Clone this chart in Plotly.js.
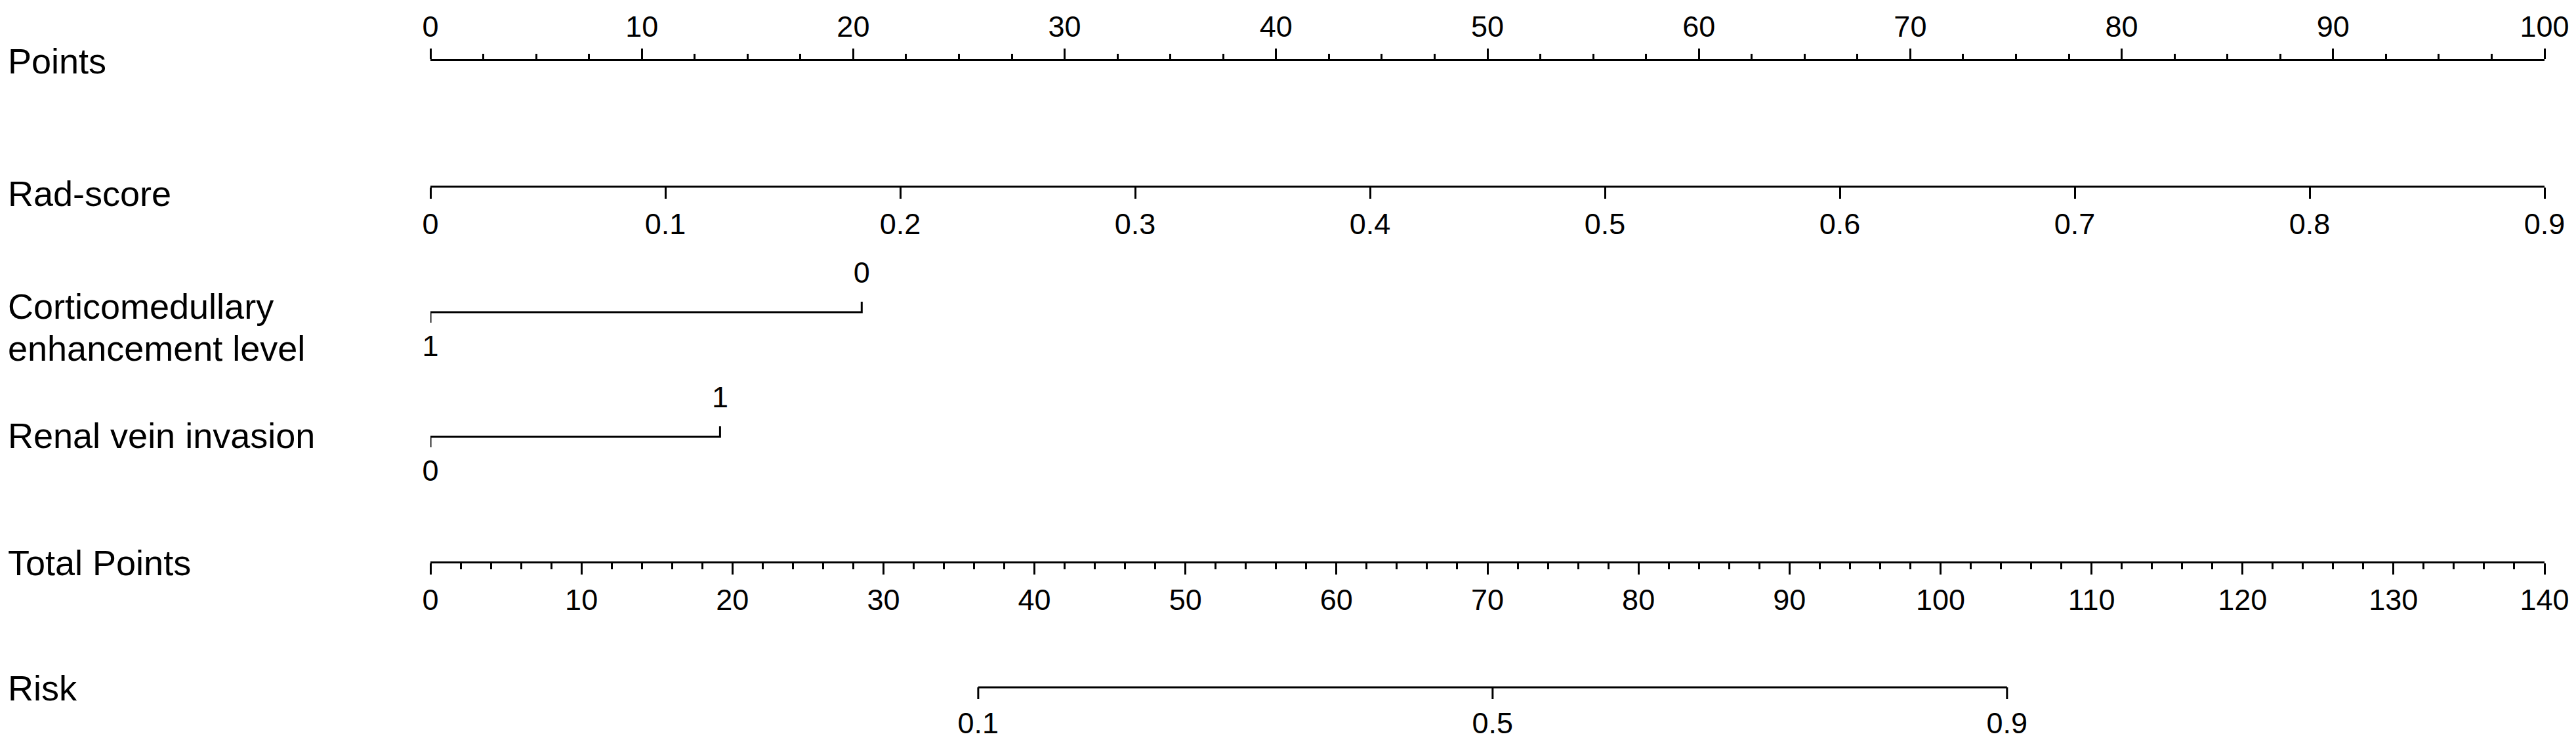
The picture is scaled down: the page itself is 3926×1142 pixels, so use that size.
<!DOCTYPE html>
<html>
<head>
<meta charset="utf-8">
<script src="https://cdn.plot.ly/plotly-3.0.1.min.js"></script>
<style>html,body{margin:0;padding:0;background:#fff;}</style>
</head>
<body>
<div id="nomogram" style="width:3926px;height:1142px;"></div>
<script>
const W = 3926, H = 1142;

// scales
const pointsTicks = [0, 10, 20, 30, 40, 50, 60, 70, 80, 90, 100];
const radTicks = [0, 0.1, 0.2, 0.3, 0.4, 0.5, 0.6, 0.7, 0.8, 0.9];
const totalTicks = [0, 10, 20, 30, 40, 50, 60, 70, 80, 90, 100, 110, 120, 130, 140];

// categorical predictors: level labels and their points
const corticoLevels = ["1", "0"];
const corticoPoints = [0, 20.4];
const renalLevels = ["0", "1"];
const renalPoints = [0, 13.7];

// risk scale: linear predictor = lpIntercept + lpSlope * total points
const riskTicks = [0.1, 0.5, 0.9];
const lpIntercept = -4.537;
const lpSlope = 0.0645;

const rowLabels = ["Points", "Rad-score", "Corticomedullary", "enhancement level",
  "Renal vein invasion", "Total Points", "Risk"];

// layout (pixels)
const FONT = "Liberation Sans, Arial, sans-serif";
const TICK_SIZE = 45, LABEL_SIZE = 54, LW = 3;
const rowY = { points: 91, rad: 284, cortico: 476, renal: 666, total: 857, risk: 1048 };
const labelY = [93, 295, 467, 531, 664, 858, 1049];
const dom = [656 / W, 3878 / W];
const pos = (y) => 1 - y / H;

function toTotal(p) {
  return (Math.log(p / (1 - p)) - lpIntercept) / lpSlope;
}

function levelTraces(pts, levels, y) {
  return [
    {
      x: [pts[0], pts[0], pts[1], pts[1]],
      y: [y + 16, y, y, y - 16],
      mode: "lines",
      line: { color: "black", width: LW },
      cliponaxis: false,
      xaxis: "x", yaxis: "y",
      hoverinfo: "skip",
    },
    {
      x: pts,
      y: [y + 56, y - 56],
      text: levels,
      mode: "text",
      textposition: "middle center",
      textfont: { family: FONT, size: TICK_SIZE, color: "black" },
      cliponaxis: false,
      xaxis: "x", yaxis: "y",
      hoverinfo: "skip",
    },
  ];
}

const riskX = riskTicks.map(toTotal);
const riskLineX = [riskX[0], riskX[riskX.length - 1]];
const riskLineY = [rowY.risk, rowY.risk];
riskX.forEach((x) => {
  riskLineX.push(null, x, x);
  riskLineY.push(null, rowY.risk, rowY.risk + 18);
});

const data = [
  // invisible anchor so the rad-score axis is drawn
  { x: [0, 0.9], y: [rowY.rad, rowY.rad], mode: "markers", marker: { opacity: 0 }, xaxis: "x2", yaxis: "y", hoverinfo: "skip" },
  ...levelTraces(corticoPoints, corticoLevels, rowY.cortico),
  ...levelTraces(renalPoints, renalLevels, rowY.renal),
  {
    x: riskLineX, y: riskLineY,
    mode: "lines",
    line: { color: "black", width: LW },
    cliponaxis: false,
    xaxis: "x3", yaxis: "y",
    hoverinfo: "skip",
  },
  {
    x: riskX,
    y: riskX.map(() => rowY.risk + 59),
    text: riskTicks.map(String),
    mode: "text",
    textposition: "middle center",
    textfont: { family: FONT, size: TICK_SIZE, color: "black" },
    cliponaxis: false,
    xaxis: "x3", yaxis: "y",
    hoverinfo: "skip",
  },
];

const axisBase = {
  domain: dom,
  anchor: "free",
  showline: true,
  linecolor: "black",
  linewidth: LW,
  ticks: "outside",
  tickcolor: "black",
  tickwidth: LW,
  tickmode: "array",
  showgrid: false,
  zeroline: false,
  fixedrange: true,
  tickfont: { family: FONT, size: TICK_SIZE, color: "black" },
};

const layout = {
  width: W,
  height: H,
  margin: { l: 0, r: 0, t: 0, b: 0, pad: 0 },
  paper_bgcolor: "white",
  plot_bgcolor: "white",
  showlegend: false,
  font: { family: FONT, color: "black" },
  xaxis: {
    ...axisBase,
    range: [0, 100],
    side: "top",
    position: pos(rowY.points),
    tickvals: pointsTicks,
    ticklen: 16,
    minor: { tickmode: "linear", tick0: 0, dtick: 2.5, ticks: "outside", ticklen: 8, tickwidth: LW, tickcolor: "black", showgrid: false },
  },
  xaxis2: {
    ...axisBase,
    overlaying: "x",
    range: [0, 0.9],
    side: "bottom",
    position: pos(rowY.rad),
    tickvals: radTicks,
    ticklen: 17,
  },
  xaxis3: {
    ...axisBase,
    overlaying: "x",
    range: [0, 140],
    side: "bottom",
    position: pos(rowY.total),
    tickvals: totalTicks,
    ticklen: 17,
    minor: { tickmode: "linear", tick0: 0, dtick: 2, ticks: "outside", ticklen: 9, tickwidth: LW, tickcolor: "black", showgrid: false },
  },
  yaxis: {
    domain: [0, 1],
    range: [H, 0],
    visible: false,
    fixedrange: true,
  },
  annotations: rowLabels.map((t, i) => ({
    text: t,
    xref: "paper",
    x: 10 / W,
    xanchor: "left",
    yref: "y",
    y: labelY[i],
    yanchor: "middle",
    showarrow: false,
    font: { family: FONT, size: LABEL_SIZE, color: "black" },
  })),
};

Plotly.newPlot("nomogram", data, layout, { staticPlot: true });
</script>
</body>
</html>
